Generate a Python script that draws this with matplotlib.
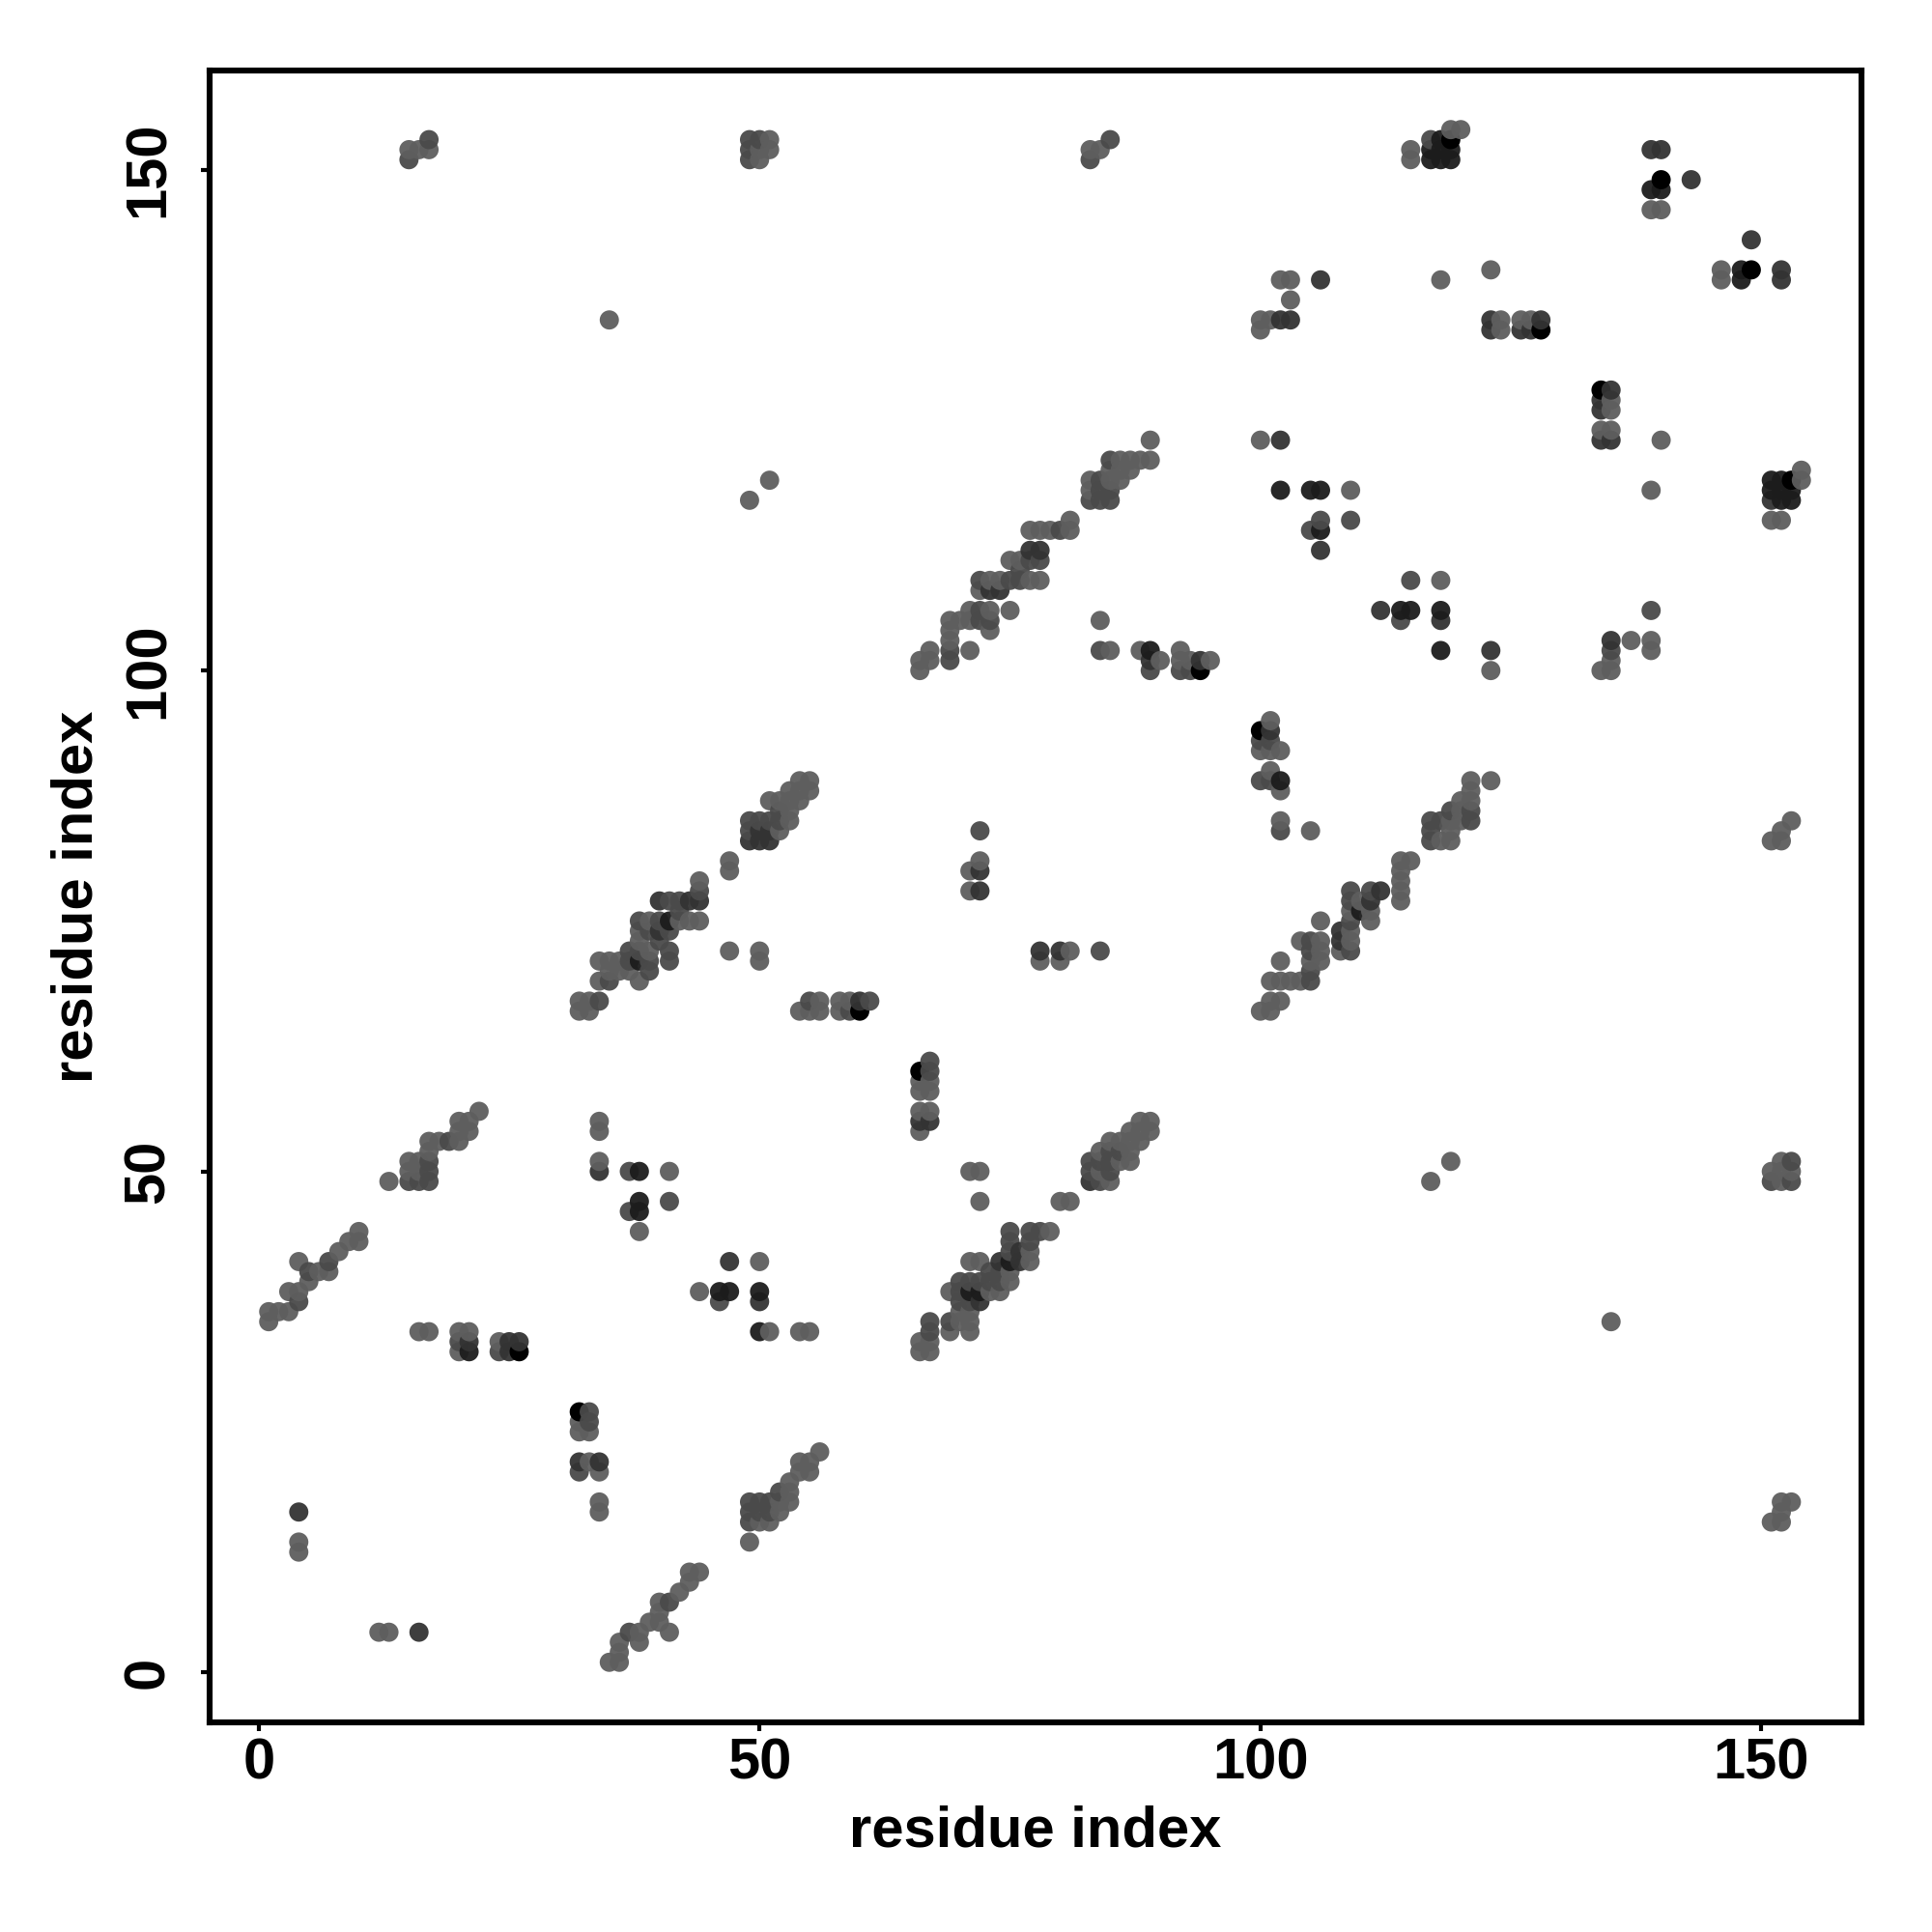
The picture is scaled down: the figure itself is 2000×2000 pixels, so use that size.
"""
Residue contact map, dots shaded by contact strength.
"""

import numpy as np
import matplotlib
matplotlib.use('Agg')
import matplotlib.pyplot as plt

plt.rcParams['font.family'] = ['Liberation Sans', 'DejaVu Sans']

# contacts as (residue x, residue y), grouped by how dark the dot looks
light = [
    (12, 4), (13, 4), (4, 13), (4, 12), (35, 1), (36, 1), (36, 2), (36, 3), (38, 3), (38, 4),
    (39, 5), (40, 5), (40, 6), (40, 7), (41, 4), (42, 8), (43, 9), (43, 10), (44, 10),
    (49, 13), (50, 15), (51, 15), (52, 16), (52, 17), (53, 17), (53, 18), (53, 19), (54, 20), (54, 21),
    (55, 20), (55, 21), (56, 22), (34, 16), (34, 17), (32, 20), (34, 20), (33, 21), (32, 24), (33, 24),
    (32, 25), (24, 33), (20, 32), (20, 34), (21, 34), (16, 34), (17, 34),
    (1, 35), (1, 36), (2, 36), (3, 36), (3, 38), (4, 38), (5, 39), (6, 40), (7, 40), (4, 41),
    (8, 42), (9, 43), (10, 43), (10, 44), (13, 49), (15, 51), (16, 51), (16, 50), (15, 50),
    (17, 52), (17, 53), (18, 53), (20, 53), (20, 54), (21, 54), (20, 55), (21, 55), (22, 56),
    (34, 51), (34, 54), (34, 55), (41, 50), (38, 44), (50, 41), (44, 38), (51, 34), (54, 34), (55, 34),
    (66, 59), (67, 59), (66, 58), (67, 58), (66, 56), (67, 56), (66, 54), (71, 50), (72, 50), (72, 47),
    (80, 47), (81, 47), (79, 44), (77, 42), (77, 41), (71, 41), (72, 41), (75, 39), (75, 40),
    (74, 38), (73, 38), (69, 38), (70, 36), (71, 36), (70, 35), (71, 35), (69, 34), (71, 34),
    (66, 33), (67, 33), (66, 32), (67, 32), (89, 55), (88, 55), (89, 54), (87, 54), (88, 54),
    (87, 53), (88, 53), (85, 53), (86, 53), (84, 52), (87, 52), (87, 51), (86, 51), (85, 49), (84, 50),
    (32, 66), (33, 66), (32, 67), (33, 67), (34, 69), (34, 71), (35, 71), (35, 70), (36, 70), (36, 71),
    (37, 70), (38, 69), (38, 73), (38, 74), (39, 72), (39, 75), (42, 75), (43, 75), (44, 75), (41, 71),
    (47, 80), (47, 72), (50, 72), (50, 71), (44, 79), (52, 84), (53, 85), (53, 86), (53, 87), (53, 88),
    (54, 87), (54, 88), (54, 89), (55, 88), (55, 89), (52, 87), (51, 87), (54, 66), (56, 67), (56, 66),
    (55, 66), (58, 67), (58, 66), (66, 100), (66, 101), (67, 101), (67, 102), (69, 103), (69, 104),
    (69, 105), (70, 105), (71, 102), (71, 105), (71, 106), (73, 106), (73, 104), (75, 106),
    (72, 108), (73, 109), (74, 109), (77, 109), (78, 109), (76, 111), (75, 111), (77, 114), (78, 114), (79, 114),
    (81, 115), (81, 114), (83, 118), (83, 119), (85, 119), (86, 119), (85, 120), (86, 120), (87, 120),
    (86, 121), (87, 121), (88, 121), (89, 121), (89, 123), (84, 105), (85, 102), (88, 102), (90, 101),
    (92, 102), (92, 101), (93, 101), (95, 101), (100, 66), (101, 66), (101, 67), (102, 67), (102, 71),
    (102, 69), (103, 69), (104, 69), (105, 71), (106, 71), (106, 72), (104, 73), (106, 73), (106, 75),
    (108, 72), (109, 73), (109, 74), (109, 76), (111, 75), (111, 76), (114, 77), (114, 78), (114, 79),
    (114, 80), (115, 81), (114, 81), (118, 83), (119, 83), (119, 84), (119, 85), (120, 85), (120, 86),
    (120, 87), (121, 87), (121, 88), (121, 89), (123, 89), (101, 95), (101, 92), (102, 92), (100, 92),
    (101, 90), (102, 88), (102, 85), (105, 84), (101, 69), (115, 152), (115, 151), (119, 154), (120, 154),
    (139, 146), (140, 146), (146, 140), (146, 139), (100, 135), (101, 135), (102, 139), (103, 139),
    (103, 137), (100, 134), (118, 139), (123, 140), (124, 135), (124, 134), (126, 135), (127, 135),
    (135, 127), (135, 126), (134, 124), (135, 124), (140, 123), (100, 123), (109, 118), (118, 109),
    (123, 100), (135, 101), (134, 100), (135, 100), (137, 103), (139, 103), (139, 102), (139, 118),
    (154, 119), (154, 120), (151, 115), (152, 115), (15, 152), (16, 152), (17, 152), (50, 151), (50, 152),
    (51, 152), (51, 153), (83, 152), (84, 152), (35, 135), (71, 80), (72, 81), (71, 78), (78, 71), (80, 71),
    (81, 72), (117, 49), (119, 51), (135, 35), (151, 50), (152, 50), (152, 51), (152, 49), (153, 50),
    (151, 15), (152, 15), (152, 16), (152, 17), (153, 17), (151, 83), (152, 83), (152, 84), (153, 85),
    (49, 117), (51, 119), (61, 67), (59, 67), (47, 81), (110, 77),
]
medium = [
    (37, 4), (41, 7), (33, 25), (33, 26), (32, 20), (20, 33), (37, 50), (37, 46), (4, 37),
    (41, 47), (46, 37), (15, 49), (16, 49), (17, 49), (17, 50), (17, 51), (19, 53), (7, 41), (5, 40),
    (49, 15), (49, 16), (50, 16), (51, 16), (49, 17), (50, 17), (51, 17), (52, 18), (24, 32), (41, 71),
    (67, 60), (67, 61), (75, 44), (75, 43), (75, 42), (74, 40), (73, 40), (73, 39), (74, 39), (72, 39), (71, 39),
    (70, 39), (70, 38), (70, 37), (71, 37), (69, 35), (67, 35), (67, 34), (77, 44), (78, 44), (77, 43),
    (83, 51), (84, 51), (85, 52), (86, 52), (85, 51), (85, 50), (84, 49), (83, 50), (34, 67), (35, 69),
    (37, 71), (37, 72), (39, 71), (39, 70), (38, 72), (38, 75), (39, 74), (40, 75), (40, 73), (41, 74),
    (41, 72), (42, 76), (41, 77), (42, 77), (44, 78), (49, 85), (49, 84), (50, 85), (51, 85), (52, 86), (52, 85),
    (55, 67), (59, 66), (61, 67), (69, 101), (69, 102), (72, 105), (73, 105), (72, 106), (72, 109), (75, 109),
    (76, 109), (76, 110), (77, 111), (78, 111), (80, 114), (83, 117), (84, 117), (85, 117), (84, 118), (85, 118),
    (84, 119), (85, 121), (84, 102), (89, 100), (93, 100), (92, 100), (105, 69), (105, 70), (105, 72), (105, 73),
    (109, 72), (109, 75), (109, 77), (109, 78), (111, 78), (117, 83), (117, 84), (117, 85), (118, 85),
    (121, 85), (121, 86), (119, 86), (100, 93), (101, 93), (100, 89), (101, 89), (115, 109),
    (106, 115), (105, 114), (109, 115), (117, 153), (153, 51), (72, 84), (84, 72),
    (153, 49), (151, 49), (17, 153), (15, 151), (49, 151), (49, 152), (49, 153), (50, 153), (83, 151), (85, 153),
    (135, 102), (139, 106), (114, 105), (102, 84),
]
dark = [
    (16, 4), (4, 16), (34, 50), (32, 21), (34, 21), (47, 41), (50, 37), (21, 33), (25, 33), (25, 32), (26, 33),
    (66, 55), (67, 55), (76, 42), (76, 41), (74, 41), (72, 37), (83, 49),
    (40, 74), (40, 77), (43, 77), (44, 77), (50, 83), (51, 83), (49, 83), (50, 84), (51, 84), (60, 67),
    (112, 106), (118, 105), (106, 112), (123, 102), (135, 103), (139, 152), (140, 152), (143, 149),
    (149, 143), (152, 140), (152, 139), (134, 123), (135, 123), (102, 123), (106, 139), (103, 135), (102, 135),
    (128, 135), (123, 135), (123, 134), (127, 134), (126, 134), (72, 78), (72, 80), (78, 72), (80, 72), (112, 78),
    (111, 77), (108, 73), (108, 74), (101, 94), (135, 128), (134, 127), (134, 126), (78, 112), (77, 112),
    (73, 108), (74, 108), (89, 101), (94, 101), (151, 117),
]
darker = [
    (21, 32), (38, 50), (38, 47), (38, 46), (47, 38), (46, 38), (50, 38), (50, 34), (75, 41), (41, 75),
    (110, 76), (102, 89), (71, 38), (72, 38), (38, 71), (118, 102), (89, 102), (118, 106), (102, 118), (106, 118),
    (106, 114), (148, 140), (148, 139), (139, 148), (140, 148), (115, 106), (114, 106), (105, 118),
    (117, 151), (118, 151), (119, 151), (117, 152), (118, 152), (119, 152), (118, 153),
    (151, 118), (152, 117), (152, 118), (152, 119), (151, 119), (153, 117), (153, 118),
]
blackest = [
    (32, 26), (26, 32), (60, 66), (94, 100), (100, 94), (66, 60), (128, 134), (134, 128),
    (119, 153), (153, 119), (149, 140), (140, 149),
]

contact_groups = [light, medium, dark, darker, blackest]
group_greys = [0.37, 0.29, 0.20, 0.11, 0.0]
group_alphas = [0.95, 0.95, 0.95, 0.95, 1.0]

ticks = [0, 50, 100, 150]

# later groups win where a cell is listed twice
cells = {}
for group, grey, alpha in zip(contact_groups, group_greys, group_alphas):
    for cell in group:
        cells[cell] = (grey, grey, grey, alpha)

xy = np.array(list(cells.keys()))
rgba = np.array(list(cells.values()))
order = np.lexsort((xy[:, 1], xy[:, 0]))

fig = plt.figure(figsize=(20, 20), dpi=100)
ax = fig.add_axes([217 / 2000, 1 - 1783 / 2000, 1710 / 2000, 1710 / 2000])

ax.scatter(xy[order, 0], xy[order, 1], s=205, c=rgba[order], linewidths=0)

ax.set_xlim(-4.9, 160)
ax.set_ylim(-5, 159.9)
ax.set_xticks(ticks)
ax.set_yticks(ticks)
ax.tick_params(length=6.5, width=3, labelsize=43)
ax.tick_params(axis='x', pad=4.5)
ax.tick_params(axis='y', pad=19)
for label in ax.get_xticklabels():
    label.set_fontweight('bold')
for label in ax.get_yticklabels():
    label.set_fontweight('bold')
    label.set_rotation(90)
    label.set_verticalalignment('center')

for spine in ax.spines.values():
    spine.set_linewidth(4.4)

ax.set_xlabel('residue index', fontsize=43, fontweight='bold', labelpad=11)
ax.set_ylabel('residue index', fontsize=43, fontweight='bold', labelpad=13.5)

plt.savefig('out.png', dpi=100)
plt.close()
